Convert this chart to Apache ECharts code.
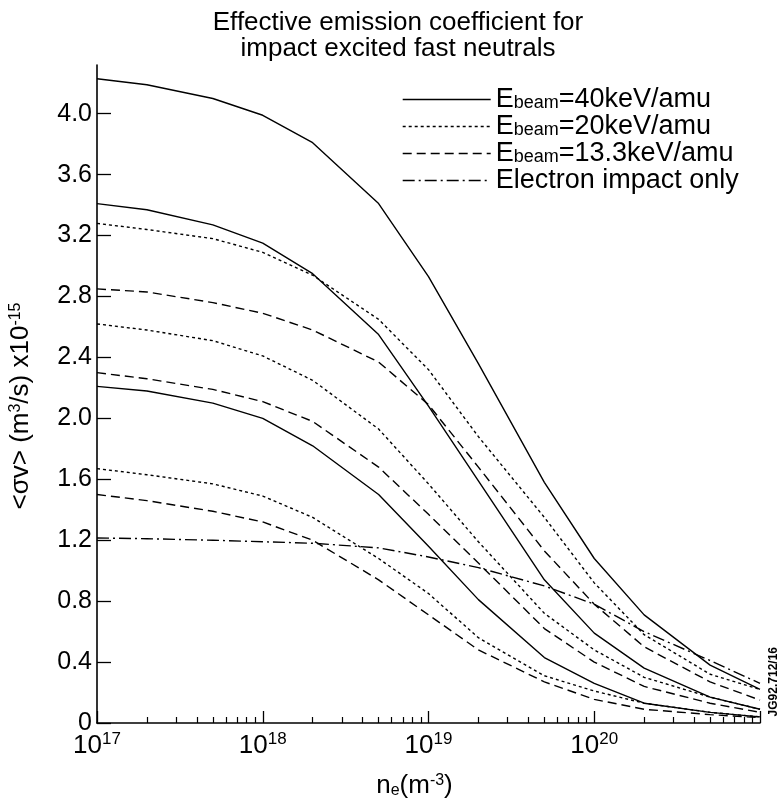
<!DOCTYPE html>
<html>
<head>
<meta charset="utf-8">
<script src="https://cdn.jsdelivr.net/npm/echarts@6/dist/echarts.min.js"></script>
<style>
  html, body { margin: 0; padding: 0; background: #fff; }
  #chart { width: 781px; height: 804px; }
</style>
</head>
<body>
<div id="chart"></div>
<script>
// Electron density (m^-3)
const density = [1e17, 2e17, 5e17, 1e18, 2e18, 5e18, 1e19, 2e19, 5e19, 1e20, 2e20, 5e20, 1e21];

// E_beam = 40 keV/amu (solid)
const e40a = [4.23, 4.19, 4.10, 3.99, 3.81, 3.41, 2.93, 2.36, 1.58, 1.08, 0.71, 0.38, 0.22];
const e40b = [3.41, 3.37, 3.27, 3.15, 2.95, 2.55, 2.08, 1.59, 0.94, 0.59, 0.36, 0.17, 0.09];
const e40c = [2.21, 2.18, 2.10, 2.00, 1.82, 1.50, 1.16, 0.81, 0.43, 0.26, 0.13, 0.07, 0.04];
// E_beam = 20 keV/amu (dotted)
const e20a = [3.28, 3.24, 3.18, 3.09, 2.94, 2.65, 2.32, 1.88, 1.35, 0.92, 0.58, 0.32, 0.22];
const e20b = [2.62, 2.58, 2.51, 2.41, 2.25, 1.93, 1.57, 1.19, 0.72, 0.48, 0.30, 0.17, 0.09];
const e20c = [1.67, 1.63, 1.57, 1.49, 1.35, 1.08, 0.85, 0.56, 0.31, 0.21, 0.13, 0.07, 0.04];
// E_beam = 13.3 keV/amu (dashed)
const e13a = [2.85, 2.83, 2.76, 2.69, 2.58, 2.37, 2.09, 1.68, 1.13, 0.78, 0.50, 0.27, 0.15];
const e13b = [2.30, 2.26, 2.19, 2.11, 1.98, 1.68, 1.37, 1.05, 0.62, 0.40, 0.24, 0.13, 0.07];
const e13c = [1.50, 1.46, 1.39, 1.32, 1.20, 0.94, 0.71, 0.48, 0.27, 0.155, 0.09, 0.055, 0.035];
// Electron impact only (dash-dot)
const electron = [1.215, 1.21, 1.20, 1.19, 1.18, 1.15, 1.09, 1.02, 0.90, 0.78, 0.60, 0.41, 0.26];

// Axis ticks
const yTicks = [0, 0.4, 0.8, 1.2, 1.6, 2.0, 2.4, 2.8, 3.2, 3.6, 4.0];
const xDecades = [17, 18, 19, 20, 21];
const xLabelDecades = [17, 18, 19, 20];
const minorMultipliers = [2, 3, 4, 5, 6, 7, 8, 9];

const names = {
  e40: 'E_beam=40keV/amu',
  e20: 'E_beam=20keV/amu',
  e13: 'E_beam=13.3keV/amu',
  el: 'Electron impact only'
};

const FONT = '"Liberation Sans", Arial, Helvetica, sans-serif';

function toPairs(vals) {
  return density.map((d, i) => [Math.log10(d), vals[i]]);
}
function mk(name, vals, type) {
  return {
    name: name,
    type: 'line',
    xAxisIndex: 0,
    data: toPairs(vals),
    symbol: 'none',
    silent: true,
    animation: false,
    itemStyle: { color: '#000' },
    lineStyle: { color: '#000', width: 1.4, type: type }
  };
}
const dotted = [3, 3];
const dashed = [9, 5];
const dashDot = [12, 4, 2, 4];

const minorTicks = [];
xDecades.slice(0, 4).forEach(d => minorMultipliers.forEach(m => minorTicks.push(d + Math.log10(m))));

const chart = echarts.init(document.getElementById('chart'), null, { renderer: 'canvas' });
chart.setOption({
  backgroundColor: '#fff',
  animation: false,
  textStyle: { fontFamily: FONT, color: '#000' },
  title: {
    text: 'Effective emission coefficient for\nimpact excited fast neutrals',
    left: 398,
    textAlign: 'center',
    top: 10,
    padding: 0,
    textStyle: { fontFamily: FONT, fontSize: 26, fontWeight: 'normal', color: '#000', lineHeight: 26 }
  },
  legend: {
    orient: 'vertical',
    left: 402,
    top: 86,
    padding: 0,
    itemWidth: 88,
    itemHeight: 14,
    itemGap: 0,
    itemStyle: { color: 'rgba(0,0,0,0)', borderWidth: 0, opacity: 0 },
    lineStyle: { width: 1.4 },
    data: [names.e40, names.e20, names.e13, names.el],
    formatter: function (name) {
      if (name.indexOf('E_beam') === 0) {
        return '{n|E}{sb|beam}{n|' + name.substring(6) + '}';
      }
      return '{n|' + name + '}';
    },
    textStyle: {
      fontFamily: FONT,
      lineHeight: 26,
      rich: {
        n: { fontSize: 27, color: '#000', fontFamily: FONT, lineHeight: 26 },
        sb: { fontSize: 18, color: '#000', fontFamily: FONT, verticalAlign: 'bottom', lineHeight: 12 }
      }
    },
    selectedMode: false
  },
  grid: { left: 96, right: 21, top: 65, bottom: 81, containLabel: false },
  xAxis: [
    {
      type: 'value',
      min: 17, max: 21,
      splitLine: { show: false },
      axisLine: { show: true, lineStyle: { color: '#000', width: 1.6 } },
      axisTick: { show: true, inside: true, length: 12, customValues: xDecades, lineStyle: { color: '#000', width: 1.3 } },
      axisLabel: {
        customValues: xLabelDecades,
        margin: 8,
        formatter: function (v) { return '{b|10}{s|' + Math.round(v) + '}'; },
        rich: {
          b: { fontSize: 26, color: '#000', fontFamily: FONT, verticalAlign: 'bottom', lineHeight: 28 },
          s: { fontSize: 17, color: '#000', fontFamily: FONT, verticalAlign: 'top', lineHeight: 16 }
        }
      },
      name: 'n{sb|e}(m{sp|-3})',
      nameLocation: 'middle',
      nameGap: 50,
      nameTextStyle: {
        padding: [0, 28, 0, 0],
        rich: {
          sb: { fontSize: 16, color: '#000', fontFamily: FONT, verticalAlign: 'bottom', padding: [10, 0, 0, 0] },
          sp: { fontSize: 16, color: '#000', fontFamily: FONT, verticalAlign: 'top' }
        },
        fontSize: 26, color: '#000', fontFamily: FONT
      }
    },
    {
      type: 'value',
      min: 17, max: 21,
      position: 'bottom',
      splitLine: { show: false },
      axisLine: { show: false },
      axisTick: { show: true, inside: true, length: 6, customValues: minorTicks, lineStyle: { color: '#000', width: 1.2 } },
      axisLabel: { show: false }
    }
  ],
  yAxis: {
    type: 'value',
    min: 0, max: 4.32,
    splitLine: { show: false },
    axisLine: { show: true, lineStyle: { color: '#000', width: 1.6 } },
    axisTick: { show: true, inside: true, length: 14, customValues: yTicks, lineStyle: { color: '#000', width: 1.3 } },
    axisLabel: {
      customValues: yTicks,
      margin: 5,
      fontSize: 25,
      color: '#000',
      fontFamily: FONT,
      formatter: function (v) { return v === 0 ? '0' : v.toFixed(1); }
    },
    name: '<σv> (m{sp|3}/s) x10{sp|-15}',
    nameLocation: 'middle',
    nameRotate: 90,
    nameGap: 63,
    nameTextStyle: {
      fontSize: 26, color: '#000', fontFamily: FONT,
      padding: [0, 24, 0, 0],
      rich: {
        sp: { fontSize: 16, color: '#000', fontFamily: FONT, verticalAlign: 'top' }
      }
    }
  },
  graphic: [
    {
      type: 'text',
      left: 768, top: 647,
      rotation: Math.PI / 2,
      style: { text: 'JG92.712/16', fontSize: 12, fontFamily: FONT, fill: '#000', fontWeight: 'bold' }
    }
  ],
  series: [
    mk(names.e40, e40a, 'solid'),
    mk(names.e40, e40b, 'solid'),
    mk(names.e40, e40c, 'solid'),
    mk(names.e20, e20a, dotted),
    mk(names.e20, e20b, dotted),
    mk(names.e20, e20c, dotted),
    mk(names.e13, e13a, dashed),
    mk(names.e13, e13b, dashed),
    mk(names.e13, e13c, dashed),
    mk(names.el, electron, dashDot)
  ]
});
</script>
</body>
</html>
